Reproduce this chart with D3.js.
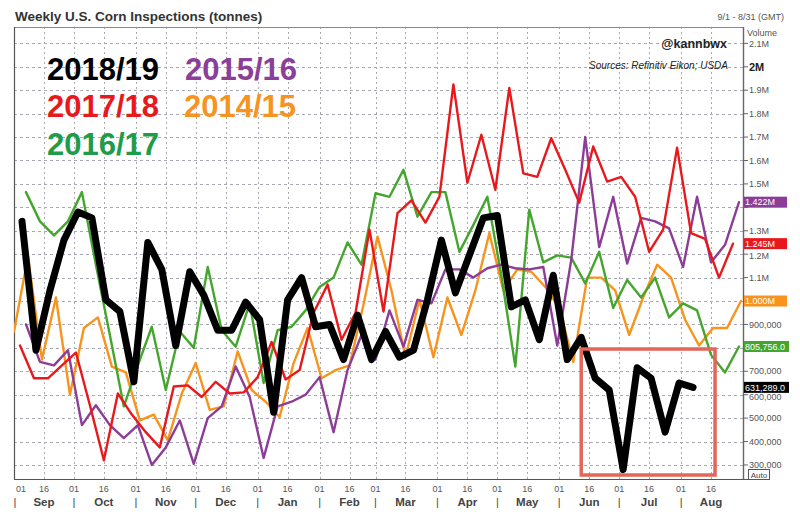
<!DOCTYPE html>
<html><head><meta charset="utf-8">
<script src="https://cdn.jsdelivr.net/npm/d3@7/dist/d3.min.js"></script>
<style>body{margin:0;background:#fff;} svg{display:block;font-family:Arial,"Liberation Sans",sans-serif;}</style>
</head><body><svg id="c" width="800" height="514"></svg>
<script>
// ---------- DATA ----------
const seasons = ["2018/19", "2017/18", "2016/17", "2015/16", "2014/15"];
// first week-ending date of each season, mapped onto the 2018/19 Sep-Aug axis
const firstWeek = ["2018-09-05", "2018-09-04", "2018-09-07", "2018-09-07", "2018-09-01"];

const values1819 = [1340000, 790000, 1045000, 1260000, 1380000, 1355000, 1005000, 955000, 655000, 1250000,
  1135000, 810000, 1125000, 1025000, 875000, 875000, 995000, 920000, 525000, 1005000,
  1100000, 890000, 900000, 750000, 940000, 750000, 870000, 760000, 790000, 1005000,
  1260000, 1035000, 1195000, 1355000, 1365000, 975000, 1005000, 835000, 1110000, 750000,
  845000, 670000, 620000, 280000, 715000, 670000, 440000, 650000, 631289];

const values1718 = [810000, 670000, 670000, 725000, 780000, 555000, 320000, 605000, 515000, 440000,
  375000, 635000, 640000, 590000, 655000, 605000, 610000, 675000, 825000, 665000,
  705000, 950000, 1070000, 835000, 950000, 1305000, 955000, 1375000, 1430000, 1335000,
  1445000, 1925000, 1505000, 1710000, 1475000, 1910000, 1545000, 1530000, 1695000, 1560000,
  1420000, 1660000, 1510000, 1530000, 1445000, 1210000, 1305000, 1655000, 1290000, 1265000,
  1100000, 1245000];

const values1617 = [1465000, 1340000, 1280000, 1340000, 1465000, 1155000, 855000, 550000, 725000, 890000,
  620000, 870000, 800000, 1145000, 875000, 805000, 990000, 650000, 875000, 890000,
  960000, 1060000, 1100000, 1250000, 1155000, 1460000, 1445000, 1560000, 1360000, 1465000,
  1465000, 1210000, 1325000, 1445000, 1110000, 720000, 1390000, 1165000, 1195000, 1185000,
  1075000, 1210000, 970000, 1090000, 1015000, 1100000, 930000, 990000, 960000, 770000,
  695000, 805756];

const values1516 = [900000, 740000, 725000, 790000, 470000, 555000, 470000, 415000, 470000, 300000,
  375000, 490000, 305000, 500000, 550000, 720000, 590000, 330000, 550000, 570000,
  600000, 675000, 440000, 705000, 855000, 750000, 960000, 805000, 1005000, 990000,
  1135000, 1135000, 1100000, 1140000, 1155000, 1140000, 1135000, 1145000, 810000, 1175000,
  1700000, 1230000, 1445000, 1160000, 1355000, 1340000, 1310000, 1145000, 1445000, 1165000,
  1240000, 1422000];

const values1415 = [870000, 1190000, 750000, 1015000, 600000, 885000, 930000, 720000, 695000, 490000,
  515000, 405000, 605000, 735000, 535000, 550000, 785000, 620000, 570000, 505000,
  735000, 885000, 670000, 705000, 725000, 985000, 1275000, 1045000, 760000, 1005000,
  760000, 1015000, 855000, 1045000, 1290000, 1045000, 1135000, 1125000, 1060000, 970000,
  740000, 1100000, 1100000, 1045000, 855000, 1015000, 1155000, 1100000, 920000, 810000,
  885000, 885000, 1000000];

const allValues = [values1819, values1718, values1617, values1516, values1415];

const monthNames = ["Sep", "Oct", "Nov", "Dec", "Jan", "Feb", "Mar", "Apr", "May", "Jun", "Jul", "Aug"];
const dayTickLabels = ["01", "16"];
const yTickValues = [300000, 400000, 500000, 600000, 700000, 800000, 900000, 1000000, 1100000, 1200000,
  1300000, 1400000, 1500000, 1600000, 1700000, 1800000, 1900000, 2000000, 2100000];

const titleText = "Weekly U.S. Corn Inspections (tonnes)";
const handleText = "@kannbwx";
const sourceText = "Sources: Refinitiv Eikon; USDA";
const rangeText = "9/1 - 8/31 (GMT)";

// ---------- STYLE ----------
const lineColor = {"2018/19": "#000000", "2017/18": "#e8191c", "2016/17": "#45a62e", "2015/16": "#8c3d97", "2014/15": "#f7941e"};
const textColor = {"2018/19": "#000000", "2017/18": "#e8191c", "2016/17": "#1f9c4a", "2015/16": "#8b3f98", "2014/15": "#f7941e"};
const lineWidth = {"2018/19": 7, "2017/18": 2.4, "2016/17": 2.4, "2015/16": 2.4, "2014/15": 2.4};
const drawOrder = ["2014/15", "2016/17", "2015/16", "2017/18", "2018/19"];

// ---------- CHART ----------
const svg = d3.select("#c");
const plot = {left: 14, right: 743, top: 27, bottom: 479};
const parse = d3.timeParse("%Y-%m-%d");
const x = d3.scaleTime().domain([new Date(2018, 8, 1), new Date(2019, 8, 1)]).range([plot.left, plot.right]);
const y = d3.scaleLinear().domain([240000, 2170000]).range([plot.bottom, plot.top]);

// gridlines
const grid = svg.append("g");
grid.selectAll("line.h").data(yTickValues).join("line")
  .attr("x1", plot.left).attr("x2", plot.right)
  .attr("y1", d => Math.round(y(d)) + 0.5).attr("y2", d => Math.round(y(d)) + 0.5)
  .attr("stroke", "#a9a9b4").attr("stroke-width", 1).attr("stroke-dasharray", "3,3");

const monthStarts = monthNames.map((m, i) => new Date(2018, 8 + i, 1));
const tickDates = [];
monthStarts.forEach(d => { tickDates.push({d: d, lab: dayTickLabels[0]}); tickDates.push({d: new Date(d.getFullYear(), d.getMonth(), 16), lab: dayTickLabels[1]}); });

grid.selectAll("line.v").data(tickDates.filter(t => x(t.d) > plot.left + 2)).join("line")
  .attr("x1", d => Math.round(x(d.d)) + 0.5).attr("x2", d => Math.round(x(d.d)) + 0.5)
  .attr("y1", plot.top).attr("y2", plot.bottom)
  .attr("stroke", "#a9a9b4").attr("stroke-width", 1).attr("stroke-dasharray", "2,3");

// frame
svg.append("line").attr("x1", plot.left).attr("x2", plot.right).attr("y1", plot.top + 0.5).attr("y2", plot.top + 0.5).attr("stroke", "#8a8a8a");
svg.append("line").attr("x1", plot.left + 0.5).attr("x2", plot.left + 0.5).attr("y1", plot.top).attr("y2", plot.bottom).attr("stroke", "#555").attr("stroke-width", 1.2);
svg.append("line").attr("x1", plot.left).attr("x2", 752).attr("y1", plot.bottom + 0.5).attr("y2", plot.bottom + 0.5).attr("stroke", "#555").attr("stroke-width", 1.2);
svg.append("line").attr("x1", plot.right + 0.5).attr("x2", plot.right + 0.5).attr("y1", plot.top).attr("y2", plot.bottom).attr("stroke", "#666").attr("stroke-width", 1.4);

// series lines
const lineGen = d3.line().x(d => x(d.date)).y(d => y(d.v));
const seriesData = seasons.map((s, i) => {
  const start = parse(firstWeek[i]);
  return {name: s, pts: allValues[i].map((v, k) => ({date: d3.timeDay.offset(start, 7 * k), v: v}))};
});
const byName = {};
seriesData.forEach(s => byName[s.name] = s);

svg.append("clipPath").attr("id", "pc").append("rect")
  .attr("x", plot.left).attr("y", plot.top).attr("width", plot.right - plot.left).attr("height", plot.bottom - plot.top);
const lines = svg.append("g").attr("clip-path", "url(#pc)");
drawOrder.forEach(n => {
  lines.append("path").datum(byName[n].pts).attr("d", lineGen)
    .attr("fill", "none").attr("stroke", lineColor[n]).attr("stroke-width", lineWidth[n])
    .attr("stroke-linejoin", "round").attr("stroke-linecap", "round");
});

// annotation box
svg.append("rect")
  .attr("x", x(new Date(2019, 5, 12))).attr("y", y(795000))
  .attr("width", x(new Date(2019, 7, 18)) - x(new Date(2019, 5, 12)))
  .attr("height", y(257000) - y(795000))
  .attr("fill", "none").attr("stroke", "#e2665a").attr("stroke-width", 3.5);

// last values (axis labels behind value boxes are hidden / nudged)
const lastVals = seriesData.map(s => s.pts[s.pts.length - 1].v);
const covered = d => lastVals.some(v => Math.abs(y(v) - y(d)) < 6);
const nudge = d => {
  let off = 0;
  lastVals.forEach(v => { const dd = y(d) - y(v); if (Math.abs(dd) >= 6 && Math.abs(dd) < 11) off += dd > 0 ? 2 : -2; });
  return off;
};

// right axis
const ra = svg.append("g");
ra.selectAll("line").data(yTickValues).join("line")
  .attr("x1", plot.right).attr("x2", plot.right + 5)
  .attr("y1", d => y(d)).attr("y2", d => y(d)).attr("stroke", "#666");
ra.selectAll("text").data(yTickValues.filter(d => !covered(d))).join("text")
  .attr("x", plot.right + 6).attr("y", d => y(d) + nudge(d)).attr("dy", "0.35em")
  .attr("font-size", d => d === 2000000 ? 11 : 9)
  .attr("font-weight", d => d === 2000000 ? "bold" : "normal")
  .attr("fill", d => d === 2000000 ? "#222" : "#555")
  .text(d => d >= 1000000 ? (d % 1000000 === 0 ? (d / 1000000) + "M" : (d / 1000000).toFixed(1) + "M") : d3.format(",")(d));

svg.append("text").attr("x", 747).attr("y", 36).attr("font-size", 9).attr("fill", "#555").text("Volume");
svg.append("text").attr("x", 784).attr("y", 20).attr("font-size", 9).attr("fill", "#555").attr("text-anchor", "end").text(rangeText);

// Auto box
svg.append("rect").attr("x", 748.5).attr("y", 469.5).attr("width", 21).attr("height", 10).attr("fill", "#fff").attr("stroke", "#555");
svg.append("text").attr("x", 759).attr("y", 477.5).attr("font-size", 8).attr("fill", "#444").attr("text-anchor", "middle").text("Auto");

// last value labels
const fmtLast = v => v >= 1000000 ? (v / 1000000).toFixed(3) + "M" : d3.format(",.1f")(v);
seriesData.forEach(s => {
  const last = s.pts[s.pts.length - 1].v;
  const label = fmtLast(last);
  const g = svg.append("g");
  g.append("rect").attr("x", plot.right + 1).attr("y", y(last) - 5.5).attr("width", label.length > 7 ? 45 : 43).attr("height", 11)
    .attr("fill", lineColor[s.name]);
  g.append("text").attr("x", plot.right + 2).attr("y", y(last)).attr("dy", "0.35em")
    .attr("font-size", 9).attr("fill", "#fff").text(label);
});

// x axis labels
const xa = svg.append("g");
xa.selectAll("text.t").data(tickDates).join("text")
  .attr("x", d => x(d.d) < plot.left + 3 ? x(d.d) + 7 : x(d.d))
  .attr("y", 492).attr("font-size", 9).attr("fill", "#555").attr("text-anchor", "middle").text(d => d.lab);
xa.selectAll("text.m").data(monthNames).join("text")
  .attr("x", (m, i) => x(new Date(2018, 8 + i, 16))).attr("y", 506)
  .attr("font-size", 11.5).attr("font-weight", "bold").attr("fill", "#444").attr("text-anchor", "middle").text(m => m);
xa.selectAll("text.s").data(monthStarts).join("text")
  .attr("x", d => x(d) < plot.left + 3 ? x(d) + 1 : x(d)).attr("y", 506)
  .attr("font-size", 11).attr("fill", "#444").attr("text-anchor", "middle").text("|");

// title
svg.append("text").attr("x", 15).attr("y", 21).attr("font-size", 13.5).attr("font-weight", "bold").attr("fill", "#333").text(titleText);
svg.append("text").attr("x", 727).attr("y", 48).attr("font-size", 12.5).attr("font-weight", "bold").attr("fill", "#222").attr("text-anchor", "end").text(handleText);
svg.append("text").attr("x", 728).attr("y", 69).attr("font-size", 10).attr("font-style", "italic").attr("fill", "#222").attr("text-anchor", "end").text(sourceText);

// legend
const legendPos = {"2018/19": [47, 80], "2015/16": [185, 80], "2017/18": [47, 117], "2014/15": [184, 117], "2016/17": [47, 155]};
seasons.forEach(s => {
  svg.append("text").attr("x", legendPos[s][0]).attr("y", legendPos[s][1])
    .attr("font-size", 31).attr("font-weight", "bold").attr("fill", textColor[s]).text(s);
});
</script>
</body></html>
